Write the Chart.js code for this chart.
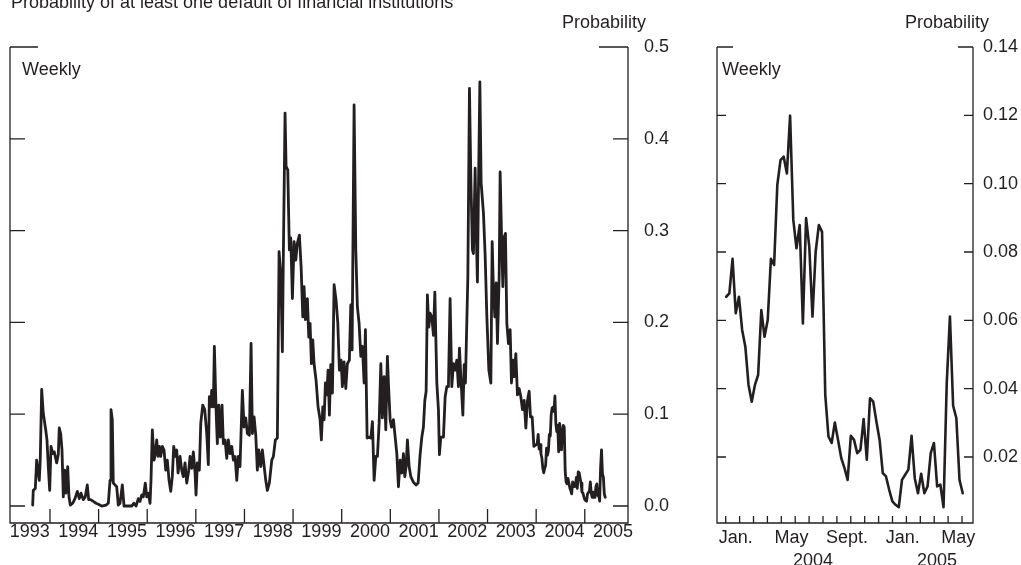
<!DOCTYPE html>
<html><head><meta charset="utf-8">
<script src="https://cdn.jsdelivr.net/npm/chart.js@4.4.1/dist/chart.umd.min.js"></script>
<style>
html,body{margin:0;padding:0;background:#fff;}
#wrap{position:relative;width:1021px;height:565px;overflow:hidden;background:#fff;}
canvas{position:absolute;left:0;top:0;}
</style></head><body>
<div id="wrap"><canvas id="left" width="1021" height="565"></canvas><canvas id="right" width="1021" height="565"></canvas></div>
<script>
// ---------- data ----------
const titleText = "Probability of at least one default of financial institutions";
const unitLabel = "Probability";
const freqLabel = "Weekly";
const yearLabels = [1993,1994,1995,1996,1997,1998,1999,2000,2001,2002,2003,2004,2005];
const yearTicks = [1994,1995,1996,1997,1998,1999,2000,2001,2002,2003,2004,2005];
const leftYTicks = [0,0.1,0.2,0.3,0.4,0.5];
const rightYTicks = [0.02,0.04,0.06,0.08,0.10,0.12,0.14];
const monthNames = ["Jan.","May","Sept.","Jan.","May"];
const monthIndex = [0,4,8,12,16];
const rightYears = ["2004","2005"];

// weekly history, [decimal year, probability]
const histPoints = [
[1993.644,0.001],[1993.656,0.017],[1993.698,0.019],[1993.726,0.050],[1993.780,0.028],[1993.800,0.050],[1993.829,0.127],[1993.862,0.101],[1993.912,0.083],[1993.938,0.072],[1993.965,0.043],[1993.994,0.017],
[1994.021,0.065],[1994.056,0.057],[1994.088,0.059],[1994.138,0.047],[1994.171,0.056],[1994.191,0.085],[1994.220,0.079],[1994.247,0.061],[1994.274,0.010],[1994.302,0.039],[1994.329,0.014],[1994.364,0.043],[1994.391,0.010],[1994.418,0.001],[1994.467,0.003],[1994.514,0.008],[1994.562,0.016],[1994.603,0.008],[1994.638,0.014],[1994.685,0.007],[1994.726,0.010],[1994.767,0.023],[1994.796,0.007],[1994.837,0.007],[1994.891,0.005],[1994.947,0.003],[1994.994,0.002],
[1995.064,0.000],[1995.152,0.001],[1995.200,0.003],[1995.235,0.028],[1995.255,0.105],[1995.282,0.094],[1995.302,0.025],[1995.337,0.023],[1995.372,0.021],[1995.405,0.001],[1995.440,0.003],[1995.488,0.023],[1995.523,0.000],[1995.611,0.000],[1995.681,0.000],[1995.728,0.003],[1995.770,0.000],[1995.817,0.008],[1995.852,0.005],[1995.887,0.012],[1995.920,0.010],[1995.961,0.025],[1995.990,0.010],
[1996.023,0.014],[1996.058,0.003],[1996.078,0.028],[1996.105,0.083],[1996.140,0.050],[1996.167,0.057],[1996.195,0.072],[1996.222,0.054],[1996.249,0.065],[1996.278,0.054],[1996.311,0.065],[1996.346,0.061],[1996.381,0.039],[1996.414,0.050],[1996.449,0.028],[1996.484,0.016],[1996.516,0.032],[1996.545,0.065],[1996.578,0.054],[1996.607,0.061],[1996.634,0.036],[1996.675,0.054],[1996.710,0.039],[1996.743,0.032],[1996.778,0.047],[1996.813,0.025],[1996.854,0.039],[1996.881,0.054],[1996.916,0.041],[1996.949,0.059],[1996.984,0.036],
[1997.004,0.012],[1997.031,0.047],[1997.072,0.039],[1997.101,0.090],[1997.142,0.110],[1997.183,0.105],[1997.224,0.079],[1997.257,0.045],[1997.278,0.119],[1997.307,0.108],[1997.327,0.126],[1997.360,0.108],[1997.381,0.174],[1997.416,0.105],[1997.442,0.068],[1997.471,0.110],[1997.504,0.075],[1997.539,0.110],[1997.566,0.068],[1997.601,0.072],[1997.636,0.052],[1997.669,0.072],[1997.704,0.057],[1997.739,0.065],[1997.772,0.050],[1997.807,0.054],[1997.842,0.028],[1997.874,0.054],[1997.909,0.043],[1997.957,0.126],[1997.992,0.086],
[1998.027,0.096],[1998.060,0.079],[1998.101,0.077],[1998.136,0.177],[1998.163,0.079],[1998.198,0.097],[1998.233,0.077],[1998.265,0.039],[1998.294,0.061],[1998.335,0.043],[1998.368,0.061],[1998.438,0.028],[1998.471,0.017],[1998.512,0.025],[1998.562,0.050],[1998.595,0.054],[1998.636,0.072],[1998.677,0.074],[1998.712,0.277],[1998.747,0.253],[1998.780,0.168],[1998.800,0.272],[1998.835,0.428],[1998.856,0.370],[1998.891,0.366],[1998.924,0.279],[1998.953,0.292],[1998.986,0.226],
[1999.021,0.288],[1999.056,0.268],[1999.088,0.286],[1999.130,0.295],[1999.165,0.261],[1999.200,0.206],[1999.226,0.239],[1999.253,0.203],[1999.294,0.226],[1999.323,0.184],[1999.350,0.199],[1999.377,0.155],[1999.405,0.181],[1999.432,0.155],[1999.473,0.137],[1999.514,0.108],[1999.556,0.094],[1999.582,0.072],[1999.611,0.108],[1999.638,0.094],[1999.665,0.134],[1999.693,0.121],[1999.720,0.148],[1999.747,0.099],[1999.776,0.154],[1999.809,0.123],[1999.844,0.241],[1999.885,0.224],[1999.920,0.199],[1999.953,0.148],[1999.988,0.159],
[2000.014,0.130],[2000.049,0.157],[2000.084,0.128],[2000.117,0.155],[2000.158,0.159],[2000.187,0.219],[2000.214,0.170],[2000.255,0.437],[2000.290,0.279],[2000.323,0.217],[2000.358,0.199],[2000.393,0.163],[2000.426,0.174],[2000.461,0.134],[2000.488,0.192],[2000.523,0.074],[2000.558,0.075],[2000.599,0.074],[2000.632,0.092],[2000.667,0.028],[2000.702,0.054],[2000.735,0.054],[2000.770,0.090],[2000.805,0.155],[2000.837,0.096],[2000.872,0.141],[2000.907,0.083],[2000.940,0.163],[2000.961,0.134],[2000.996,0.094],
[2001.023,0.086],[2001.064,0.094],[2001.134,0.057],[2001.167,0.021],[2001.202,0.050],[2001.237,0.036],[2001.270,0.057],[2001.298,0.032],[2001.325,0.043],[2001.352,0.072],[2001.387,0.043],[2001.422,0.032],[2001.475,0.026],[2001.531,0.023],[2001.572,0.025],[2001.613,0.056],[2001.648,0.075],[2001.681,0.086],[2001.710,0.115],[2001.737,0.125],[2001.763,0.230],[2001.792,0.195],[2001.819,0.210],[2001.854,0.206],[2001.887,0.186],[2001.916,0.233],[2001.957,0.134],[2001.990,0.105],
[2002.010,0.056],[2002.039,0.075],[2002.093,0.075],[2002.128,0.119],[2002.162,0.130],[2002.195,0.130],[2002.230,0.226],[2002.265,0.130],[2002.298,0.155],[2002.333,0.148],[2002.368,0.159],[2002.401,0.130],[2002.422,0.172],[2002.457,0.134],[2002.492,0.099],[2002.519,0.154],[2002.545,0.134],[2002.595,0.250],[2002.628,0.455],[2002.656,0.359],[2002.689,0.279],[2002.710,0.275],[2002.745,0.368],[2002.765,0.304],[2002.792,0.244],[2002.813,0.344],[2002.842,0.462],[2002.868,0.352],[2002.916,0.319],[2002.951,0.272],[2002.986,0.206],
[2003.027,0.148],[2003.068,0.134],[2003.095,0.288],[2003.121,0.235],[2003.150,0.206],[2003.177,0.243],[2003.204,0.177],[2003.239,0.250],[2003.259,0.364],[2003.294,0.279],[2003.315,0.239],[2003.342,0.293],[2003.368,0.297],[2003.397,0.199],[2003.430,0.177],[2003.465,0.192],[2003.492,0.134],[2003.521,0.159],[2003.547,0.141],[2003.582,0.166],[2003.615,0.121],[2003.650,0.128],[2003.685,0.119],[2003.718,0.105],[2003.753,0.115],[2003.788,0.085],[2003.821,0.115],[2003.856,0.125],[2003.883,0.097],[2003.918,0.097],[2003.953,0.065]
];

// weekly values from the first week of January 2004 to late May 2005 (right panel)
const recentStartDay = 1;   // day offset in 2004 of first observation
const recentValues = [
0.0669,0.0679,0.0780,0.0621,0.0669,0.0572,0.0523,0.0411,0.0362,0.0411,
0.0440,0.0630,0.0552,0.0601,0.0780,0.0762,0.0996,0.1069,0.1079,0.1030,
0.1199,0.0894,0.0811,0.0879,0.0591,0.0899,0.0816,0.0611,0.0801,0.0879,
0.0859,0.0382,0.0260,0.0241,0.0301,0.0250,0.0197,0.0168,0.0133,0.0262,
0.0250,0.0211,0.0221,0.0311,0.0192,0.0372,0.0362,0.0304,0.0250,0.0153,
0.0143,0.0104,0.0070,0.0060,0.0053,0.0133,0.0148,0.0163,0.0262,0.0138,
0.0094,0.0151,0.0094,0.0114,0.0211,0.0241,0.0114,0.0119,0.0053,0.0416,
0.0611,0.0350,0.0314,0.0133,0.0094
];

// ---------- build ----------
const INK = '#231f20';
const FONT = '"Liberation Sans", Arial, Helvetica, sans-serif';
Chart.defaults.font.family = FONT;
Chart.defaults.font.size = 18;
Chart.defaults.color = INK;

const recentPoints = recentValues.map((v, i) => ({x: 2004 + (recentStartDay + 7 * i) / 365.25, y: v}));
const leftData = histPoints.map(p => ({x: p[0], y: p[1]})).concat(recentPoints);

function framePlugin(cfg) {
  return {
    id: 'frame',
    afterDraw(chart) {
      const {ctx, chartArea: a, scales: {x, y}} = chart;
      ctx.save();
      ctx.strokeStyle = INK;
      ctx.lineWidth = 1.3;
      ctx.beginPath();
      ctx.moveTo(a.left, a.top); ctx.lineTo(a.left, a.bottom); ctx.lineTo(a.right, a.bottom); ctx.lineTo(a.right, a.top);
      ctx.moveTo(a.left, a.top); ctx.lineTo(a.left + cfg.stubL, a.top);
      ctx.moveTo(a.right, a.top); ctx.lineTo(a.right - cfg.stubR, a.top);
      cfg.yTicks.forEach(v => {
        const py = y.getPixelForValue(v);
        if (Math.abs(py - a.top) < 1) return;
        ctx.moveTo(a.left, py); ctx.lineTo(a.left + cfg.yLen, py);
        ctx.moveTo(a.right, py); ctx.lineTo(a.right - cfg.yLen, py);
      });
      cfg.xTicks.forEach(v => {
        const px = x.getPixelForValue(v);
        ctx.moveTo(px, a.bottom); ctx.lineTo(px, a.bottom - cfg.xLen);
      });
      ctx.stroke();
      ctx.fillStyle = INK;
      ctx.font = '18px ' + FONT;
      ctx.textBaseline = 'alphabetic';
      cfg.texts.forEach(t => {
        ctx.textAlign = t.align;
        const px = t.xv !== undefined ? x.getPixelForValue(t.xv) : t.px(a);
        ctx.fillText(t.text, px, t.py);
      });
      ctx.restore();
    }
  };
}

const commonOpts = {
  responsive: false, animation: false, devicePixelRatio: 1,
  plugins: {legend: {display: false}, tooltip: {enabled: false}},
  events: []
};

new Chart(document.getElementById('left'), {
  type: 'line',
  data: {datasets: [{data: leftData, borderColor: INK, borderWidth: 2.8, pointRadius: 0, tension: 0,
                     borderJoinStyle: 'round', borderCapStyle: 'round'}]},
  options: Object.assign({}, commonOpts, {
    layout: {padding: {left: 10, top: 47, right: 321, bottom: 0}},
    scales: {
      x: {type: 'linear', min: 1993.1776, max: 2005.889,
          grid: {display: false}, border: {display: false},
          afterFit: s => { s.height = 42; },
          afterBuildTicks: s => { s.ticks = yearLabels.map(yv => ({value: yv + 0.5})); },
          ticks: {autoSkip: false, maxRotation: 0, minRotation: 0, padding: -10, labelOffset: 4,
                  callback: v => String(Math.floor(v))}},
      y: {type: 'linear', position: 'right', min: -0.0185, max: 0.5,
          grid: {display: false}, border: {display: false},
          afterFit: s => { s.width = 72; },
          afterBuildTicks: s => { s.ticks = leftYTicks.map(v => ({value: v})); },
          ticks: {padding: 8, callback: v => v.toFixed(1)}}
    }
  }),
  plugins: [framePlugin({
    stubL: 28, stubR: 29, yLen: 15, xLen: 14, yTicks: leftYTicks, xTicks: yearTicks,
    texts: [
      {text: titleText, align: 'left', px: a => a.left + 1, py: 8},
      {text: unitLabel, align: 'right', px: a => a.right + 18, py: 28},
      {text: freqLabel, align: 'left', px: a => a.left + 12, py: 75}
    ]
  })]
});

new Chart(document.getElementById('right'), {
  type: 'line',
  data: {datasets: [{data: recentPoints, borderColor: INK, borderWidth: 2.6, pointRadius: 0, tension: 0,
                     borderJoinStyle: 'round', borderCapStyle: 'round'}]},
  options: Object.assign({}, commonOpts, {
    layout: {padding: {left: 717, top: 47, right: 0, bottom: 0}},
    scales: {
      x: {type: 'linear', min: 2003.9478, max: 2005.4826,
          grid: {display: false}, border: {display: false},
          afterFit: s => { s.height = 42; },
          afterBuildTicks: s => { s.ticks = monthIndex.map(m => ({value: 2004 + (m + 0.73) / 12})); },
          ticks: {autoSkip: false, maxRotation: 0, minRotation: 0, padding: -3.5,
                  callback: (v, i) => monthNames[i]}},
      y: {type: 'linear', position: 'right', min: 0.00068, max: 0.14,
          grid: {display: false}, border: {display: false},
          afterFit: s => { s.width = 48; },
          afterBuildTicks: s => { s.ticks = rightYTicks.map(v => ({value: v})); },
          ticks: {padding: 2, callback: v => v.toFixed(2)}}
    }
  }),
  plugins: [framePlugin({
    stubL: 16, stubR: 15, yLen: 9, xLen: 7, yTicks: rightYTicks,
    xTicks: Array.from({length: 18}, (_, k) => 2004 + k / 12),
    texts: [
      {text: unitLabel, align: 'right', px: a => a.right + 16, py: 28},
      {text: freqLabel, align: 'left', px: a => a.left + 5, py: 75},
      {text: rightYears[0], align: 'center', xv: 2004 + 6.28 / 12, py: 566},
      {text: rightYears[1], align: 'center', xv: 2004 + 15.2 / 12, py: 566}
    ]
  })]
});
</script>
</body></html>
